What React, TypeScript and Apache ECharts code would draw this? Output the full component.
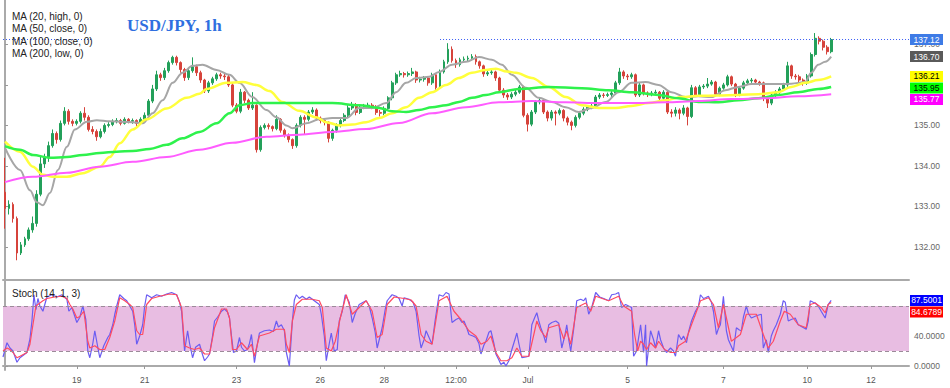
import React, { useEffect, useRef } from 'react';
import * as echarts from 'echarts';

// ---------- data ----------
const BAR_SLOTS = 227; // hourly bars incl. empty space right of last bar

// [open, close, low, high]
const candles: [number, number, number, number][] = [
[133.35,132.95,132.45,134.2],[132.95,133.05,132.8,133.15],[133.05,132.7,132.6,133.1],[132.7,131.85,131.67,132.75],
[131.85,132.05,131.8,132.12],[132.05,132.2,132.0,132.25],[132.2,132.42,132.15,132.48],[132.42,132.58,132.35,132.75],
[132.58,133.3,132.5,133.4],[133.3,134.05,133.25,134.22],[134.05,134.2,133.95,134.3],[134.2,134.5,134.1,134.6],
[134.5,134.8,134.45,134.9],[134.8,134.65,134.55,134.85],[134.65,135.05,134.6,135.12],[135.05,135.35,135.0,135.45],
[135.35,135.1,135.02,135.4],[135.1,135.05,134.98,135.15],[135.05,135.1,135.0,135.15],[135.1,135.3,135.05,135.35],
[135.3,135.2,135.12,135.45],[135.2,134.9,134.85,135.25],[134.9,134.85,134.78,134.98],[134.85,134.72,134.62,134.9],
[134.72,134.85,134.68,134.92],[134.85,135.0,134.8,135.05],[135.0,135.02,134.95,135.08],[135.02,135.1,134.98,135.15],
[135.1,135.12,135.05,135.18],[135.12,135.05,135.0,135.16],[135.05,135.15,135.02,135.2],[135.15,135.1,135.05,135.18],
[135.1,135.12,135.04,135.17],[135.12,135.05,134.98,135.15],[135.05,135.15,135.02,135.2],[135.15,135.25,135.1,135.32],
[135.25,135.6,135.2,135.65],[135.6,135.9,135.55,136.0],[135.9,136.25,135.85,136.35],[136.25,136.18,136.1,136.3],
[136.18,136.35,136.12,136.42],[136.35,136.55,136.3,136.6],[136.55,136.68,136.5,136.72],[136.68,136.55,136.48,136.72],
[136.55,136.38,136.3,136.58],[136.38,136.18,136.1,136.42],[136.18,136.35,136.12,136.4],[136.35,136.45,136.3,136.68],
[136.45,136.3,136.22,136.5],[136.3,136.12,136.05,136.35],[136.12,135.85,135.8,136.15],[135.85,136.05,135.8,136.1],
[136.05,136.15,136.0,136.2],[136.15,136.25,136.1,136.3],[136.25,136.22,136.15,136.3],[136.22,136.2,136.12,136.28],
[136.2,136.0,135.95,136.25],[136.0,135.5,135.45,136.05],[135.5,135.35,135.3,135.55],[135.35,135.82,135.3,135.9],
[135.82,135.62,135.55,135.85],[135.62,135.43,135.38,135.66],[135.43,135.5,135.38,135.82],[135.5,134.4,134.33,135.52],
[134.4,134.95,134.35,135.0],[134.95,135.0,134.9,135.05],[135.0,134.97,134.9,135.05],[134.97,134.92,134.85,135.0],
[134.92,135.15,134.88,135.25],[135.15,134.88,134.82,135.18],[134.88,134.76,134.7,134.92],[134.76,134.65,134.58,134.8],
[134.65,134.5,134.42,134.68],[134.5,135.0,134.45,135.05],[135.0,135.2,134.95,135.25],[135.2,135.15,134.78,135.25],
[135.15,135.33,135.1,135.38],[135.33,135.38,135.28,135.45],[135.38,135.18,135.12,135.42],[135.18,135.12,135.05,135.22],
[135.12,135.08,135.0,135.15],[135.08,134.68,134.58,135.1],[134.68,134.88,134.62,134.92],[134.88,135.0,134.82,135.05],
[135.0,135.12,134.95,135.18],[135.12,135.25,135.08,135.3],[135.25,135.43,135.2,135.5],[135.43,135.5,135.38,135.58],
[135.5,135.32,135.25,135.55],[135.32,135.45,135.28,135.5],[135.45,135.48,135.4,135.53],[135.48,135.5,135.42,135.56],
[135.5,135.45,135.4,135.55],[135.45,135.32,135.26,135.5],[135.32,135.3,135.22,135.38],[135.3,135.42,135.25,135.47],
[135.42,135.68,135.38,135.72],[135.68,136.05,135.62,136.1],[136.05,136.25,136.0,136.3],[136.25,136.28,136.2,136.35],
[136.28,136.25,136.18,136.32],[136.25,136.28,136.2,136.33],[136.28,136.32,136.22,136.42],[136.32,136.12,136.05,136.35],
[136.12,136.14,136.06,136.2],[136.14,136.17,136.08,136.22],[136.17,136.05,135.98,136.2],[136.05,136.25,136.0,136.3],
[136.25,135.93,135.88,136.28],[135.93,136.32,135.9,136.38],[136.32,136.57,136.28,136.62],[136.57,136.88,136.52,137.03],
[136.88,136.6,136.55,136.95],[136.6,136.5,136.42,136.65],[136.5,136.62,136.45,136.67],[136.62,136.64,136.56,136.7],
[136.64,136.66,136.58,136.72],[136.66,136.7,136.6,136.76],[136.7,136.57,136.5,136.75],[136.57,136.47,136.4,136.6],
[136.47,136.27,136.2,136.5],[136.27,136.3,136.22,136.36],[136.3,136.32,136.25,136.38],[136.32,136.17,136.1,136.35],
[136.17,135.87,135.82,136.2],[135.87,135.75,135.68,135.92],[135.75,135.7,135.63,135.8],[135.7,135.77,135.65,135.82],
[135.77,135.82,135.72,135.88],[135.82,135.95,135.78,136.0],[135.95,135.25,135.2,135.98],[135.25,135.03,134.85,135.3],
[135.03,135.33,134.98,135.38],[135.33,135.58,135.28,135.62],[135.58,135.62,135.52,135.68],[135.62,135.33,135.28,135.65],
[135.33,135.18,135.1,135.37],[135.18,135.33,135.12,135.38],[135.33,135.3,135.0,135.37],[135.3,135.37,135.25,135.42],
[135.37,135.18,135.1,135.4],[135.18,135.08,135.0,135.22],[135.08,135.0,134.88,135.12],[135.0,135.2,134.95,135.25],
[135.2,135.3,135.15,135.35],[135.3,135.4,135.25,135.45],[135.4,135.45,135.35,135.5],[135.45,135.48,135.4,135.53],
[135.48,135.7,135.42,135.75],[135.7,135.75,135.65,135.8],[135.75,135.74,135.68,135.8],[135.74,135.76,135.7,135.81],
[135.76,135.8,135.7,135.85],[135.8,136.05,135.75,136.1],[136.05,136.32,136.0,136.42],[136.32,136.22,136.15,136.36],
[136.22,136.2,136.12,136.27],[136.2,136.25,136.15,136.3],[136.25,135.75,135.7,136.28],[135.75,136.0,135.7,136.05],
[136.0,135.8,135.74,136.03],[135.8,135.77,135.7,135.84],[135.77,135.8,135.72,135.85],[135.8,135.82,135.74,135.88],
[135.82,135.67,135.6,135.85],[135.67,135.82,135.62,135.87],[135.82,135.33,135.28,135.85],[135.33,135.3,135.2,135.4],
[135.3,135.38,135.22,135.45],[135.38,135.3,135.15,135.42],[135.3,135.43,135.25,135.5],[135.43,135.22,135.0,135.46],
[135.22,135.93,135.18,136.0],[135.93,135.75,135.7,135.97],[135.75,135.95,135.7,136.0],[135.95,135.97,135.9,136.02],
[135.97,136.02,135.92,136.17],[136.02,136.07,135.98,136.12],[136.07,135.77,135.72,136.1],[135.77,135.92,135.72,135.96],
[135.92,136.0,135.88,136.05],[136.0,136.2,135.96,136.25],[136.2,136.02,135.97,136.23],[136.02,135.77,135.7,136.05],
[135.77,135.92,135.72,135.96],[135.92,136.05,135.88,136.1],[136.05,136.1,136.0,136.15],[136.1,136.12,136.05,136.17],
[136.12,136.07,136.0,136.15],[136.07,136.05,135.98,136.1],[136.05,135.67,135.6,136.08],[135.67,135.55,135.43,135.7],
[135.55,135.75,135.5,135.8],[135.75,135.82,135.7,135.87],[135.82,135.9,135.78,135.95],[135.9,136.0,135.85,136.05],
[136.0,136.47,135.95,136.57],[136.47,136.22,136.15,136.5],[136.22,136.2,136.13,136.27],[136.2,136.12,136.06,136.25],
[136.12,136.05,135.98,136.16],[136.05,136.22,136.0,136.27],[136.22,136.75,136.18,136.8],[136.75,137.15,136.7,137.28],
[137.15,137.08,137.0,137.2],[137.08,136.93,136.85,137.12],[136.93,136.82,136.75,136.98],[136.82,137.12,136.78,137.16],
];

// moving averages: [bar index, value]
const ma20High: [number, number][] = [
[0,134.45],[3.75,133.9],[6.25,133.4],[8,133.1],[9.5,133.03],[11.25,133.33],[13.25,133.9],[15.5,134.47],[17.5,134.9],
[20.5,135.09],[23,135.13],[26.25,135.1],[32,135.08],[34.5,135.05],[37,135.3],[39.5,135.62],[42,136.05],[44.5,136.3],
[47,136.47],[49.5,136.5],[53,136.37],[56.25,136.25],[58.75,136.05],[62,135.7],[65.5,135.38],[68,135.2],[70.5,135.0],
[72,134.93],[75.5,135.05],[78.75,135.15],[82,135.18],[85.5,135.18],[88.75,135.43],[92,135.43],[95.5,135.55],[98,135.82],
[100.5,136.05],[103,136.17],[106.25,136.2],[108.75,136.32],[112,136.5],[115.5,136.57],[118.75,136.69],[122,136.62],
[124.5,136.5],[127,136.25],[130.5,135.93],[133.75,135.68],[137,135.58],[140.5,135.45],[143.75,135.33],[147,135.43],
[150.5,135.58],[153.75,135.82],[157,136.05],[160.5,136.07],[163.75,136.0],[167,135.82],[170.5,135.7],[173.75,135.72],
[177,135.7],[180.5,135.87],[183.75,135.95],[187,136.02],[190.5,136.02],[193.75,136.02],[197,136.03],[200.5,136.07],
[202,136.3],[203.75,136.5],[205.5,136.57],[207,136.7],
];
const ma50Close: [number, number][] = [
[0,134.6],[3.75,134.35],[7,133.98],[9.5,133.78],[12,133.73],[15.5,133.73],[19.5,133.82],[23.75,133.98],[26.25,134.22],
[28.75,134.56],[32,134.9],[35.5,135.15],[40.5,135.42],[45.5,135.68],[48.75,135.78],[50.5,135.9],[55.5,136.05],[59.5,136.07],
[63,136.0],[66.25,135.85],[69.5,135.58],[73.75,135.36],[78,135.2],[80.5,135.08],[83.75,135.0],[87,135.02],[90.5,135.08],
[93.75,135.18],[97,135.3],[100.5,135.45],[103.75,135.68],[107,135.82],[110.5,136.0],[113.75,136.17],[117,136.3],
[120.5,136.37],[123,136.4],[125.75,136.33],[128,136.3],[132,136.17],[136.25,135.95],[140.5,135.7],[144.5,135.5],
[148.75,135.43],[153,135.43],[157,135.48],[161.25,135.55],[165.5,135.62],[169.5,135.7],[173.75,135.73],[178.75,135.74],
[183.75,135.75],[188.75,135.77],[193.75,135.82],[197,135.95],[200.5,136.05],[203.75,136.12],[207,136.21],
];
const ma100Close: [number, number][] = [
[0,134.49],[3.75,134.4],[7,134.27],[11.25,134.2],[15.5,134.22],[19.5,134.27],[23.75,134.32],[28,134.35],[32,134.37],
[36.25,134.42],[40.5,134.52],[44.5,134.68],[48.75,134.84],[53,135.05],[56.25,135.3],[58.75,135.5],[62,135.55],[67,135.55],
[73.75,135.55],[82,135.55],[88.75,135.5],[93.75,135.43],[97,135.35],[100.5,135.33],[103.75,135.38],[107,135.45],
[110.5,135.5],[113.75,135.58],[117,135.68],[120.5,135.75],[123.75,135.82],[128.75,135.9],[136.25,135.95],[144.5,135.92],
[151.25,135.87],[157,135.82],[163.75,135.75],[168.75,135.67],[173.75,135.58],[178.75,135.57],[183.75,135.62],
[188.75,135.67],[193.75,135.75],[198.75,135.82],[203.75,135.9],[207,135.95],
];
const ma200Low: [number, number][] = [
[0,133.6],[7,133.73],[15.5,133.83],[23.75,133.98],[32,134.1],[40.5,134.22],[48.75,134.4],[57,134.57],[65.5,134.72],
[73.75,134.77],[82,134.84],[90.5,134.91],[98.75,135.06],[107,135.3],[115.5,135.45],[123.75,135.57],[132,135.6],
[140.5,135.57],[148.75,135.55],[157,135.55],[165.5,135.57],[173.75,135.6],[182,135.65],[190.5,135.67],[198.75,135.72],
[207,135.77],
];

// stochastic (14, 1, 3): [bar index, value]
const stochK: [number, number][] = [
[-0.5,12],[0.5,31],[1.25,24],[2,20],[3,5],[3.75,11],[5.5,18],[6.25,36],[6.75,60],[7.25,95],[7.75,75],[8.25,90],[8.75,80],
[9.5,73],[10.5,92],[11.75,95],[13,92],[14.25,95],[15.5,89],[16,73],[16.75,78],[18,58],[18.75,65],[19.5,80],[20.25,62],
[20.75,20],[21.25,11],[22,30],[22.5,47],[23.25,25],[23.75,11],[24.75,27],[25.75,38],[26.25,42],[27,55],[27.5,69],[28,80],
[28.75,95],[29.75,90],[30.5,87],[31.25,80],[32,73],[32.5,55],[33,29],[33.75,40],[34.5,55],[35,80],[35.5,95],[36.75,91],
[38,95],[39.25,93],[40.5,96],[41.75,98],[43,95],[43.75,85],[44.25,73],[45,20],[45.75,47],[46.25,30],[47,11],[47.75,25],
[48.75,29],[49.5,15],[50,7],[50.75,12],[51.25,16],[52,40],[52.5,60],[53.25,65],[54.25,73],[55,76],[55.75,72],[56.25,64],
[56.75,40],[57.25,18],[58,20],[58.75,38],[59.25,25],[60,20],[60.75,22],[61.25,30],[61.75,42],[62.5,4.5],[63.25,30],
[63.75,44],[65,47],[66.25,48],[67.25,46],[68,60],[68.5,52],[69.25,55],[70,47],[70.5,18],[71.25,0],[72,60],[72.5,88],
[73,95],[73.75,90],[74.5,93],[75.5,89],[76.25,92],[77,89],[78,85],[78.75,82],[79.25,69],[80,40],[80.5,7],[81.25,30],
[81.75,44],[82.5,20],[83.25,22],[83.75,60],[84.5,73],[85.25,95],[86.25,85],[87,58],[87.75,70],[88.75,82],[89.75,85],
[90.5,87],[91.25,80],[92,64],[92.75,45],[93.25,24],[94,40],[94.5,51],[95.25,75],[95.75,87],[96.5,92],[97,95],[98,93],
[98.75,90],[99.5,80],[100,91],[101.25,89],[102.25,85],[103,73],[103.75,40],[104.25,24],[105,35],[105.5,47],[106.25,38],
[107,29],[107.75,60],[108.75,95],[109.75,93],[110.5,98],[111.25,96],[112,58],[113,62],[113.75,64],[114.5,58],[115,60],
[115.75,50],[116.25,42],[117.25,40],[118,38],[118.75,30],[119.25,16],[120,28],[120.5,33],[121.25,45],[121.75,47],
[122.5,30],[123,16],[123.75,8],[124.25,2],[125,5],[125.5,0],[126.25,7],[127,22],[127.75,35],[128.25,44],[128.75,30],
[129.5,11],[130.5,12],[131.25,13],[132,55],[132.75,65],[133.25,71],[133.75,60],[134.25,51],[135,40],[135.5,31],
[136.25,55],[137,58],[138,60],[138.75,57],[139.5,24],[140.25,40],[140.75,55],[141.25,35],[141.75,20],[142.5,50],
[143.25,87],[144.25,89],[145,87],[145.5,91],[146.25,69],[147,78],[148,98],[149,92],[150,90],[151.25,87],[152,95],
[153,96],[153.75,98],[154.5,78],[155.5,82],[156.25,80],[157,78],[157.5,13],[158.25,20],[159.25,55],[160,18],[160.5,55],
[160.75,0],[161.75,47],[162.5,35],[163,24],[163.75,47],[164.25,35],[165,24],[165.75,18],[166.75,24],[167.5,20],[168,13],
[168.75,42],[169.5,35],[170,40],[170.75,31],[171.25,45],[172,60],[173,73],[173.75,80],[174.25,95],[175,90],[175.5,91],
[176.25,93],[177,85],[177.5,73],[178.25,42],[178.75,50],[179.25,55],[180,93],[180.75,47],[181.25,35],[181.75,29],
[182.5,20],[183.25,51],[184,48],[184.5,47],[185,65],[185.75,80],[186.25,70],[187,64],[188.25,67],[189.5,69],[190,24],
[190.75,35],[191.25,18],[192,40],[192.5,47],[193.25,55],[194.25,69],[195,87],[195.5,85],[196.25,60],[197,62],[198,64],
[198.75,55],[199.75,52],[200.75,49],[201.25,60],[201.75,87],[202.5,85],[203,84],[203.75,80],[204.5,73],[205.5,64],
[206.25,82],[207,87.5001],
];
const stochD: [number, number][] = [
[-0.5,20],[0.5,24],[1.25,22],[2,18],[3,11],[3.75,13],[5.5,18],[6.25,29],[7,55],[7.75,80],[8.75,84],[9.5,87],[10.5,90],
[12.5,92],[14.25,93],[15.5,90],[16.25,82],[17,76],[18,64],[18.75,66],[19.75,73],[20.75,33],[21.25,24],[22.5,27],
[23.75,22],[25,22],[26.25,38],[27.5,60],[28.75,91],[30,87],[31.25,82],[32,78],[33,47],[33.75,42],[34.5,42],[35.5,82],
[36.75,90],[38.75,93],[41.25,96],[43,95],[44.25,78],[45,27],[46.25,24],[47.5,22],[48.75,24],[50,16],[51.25,16],
[52.5,51],[54.25,76],[55.5,76],[56.25,64],[57,22],[58,22],[59.25,31],[60.75,22],[61.75,29],[62.5,13],[63.75,40],
[66.25,44],[68,49],[70,49],[70.5,29],[71.25,18],[72,60],[73,82],[74.5,89],[77,89],[78.75,87],[79.5,78],[80.5,24],
[81.75,20],[82.75,33],[84,64],[85.5,95],[87,69],[88.75,78],[90.5,87],[92,73],[93.25,38],[94.5,42],[95.75,82],[97.5,92],
[100,90],[101.75,88],[103,80],[104.25,42],[105.5,33],[107,29],[108.75,87],[110.75,93],[112.5,73],[114.25,62],
[116.25,47],[118,40],[119.25,29],[120.75,33],[121.75,40],[123,18],[124.25,7],[125.75,7],[127,11],[128.25,24],[129.5,13],
[131.25,13],[132.5,42],[133.25,60],[134.25,47],[135.5,38],[136.25,51],[138.75,55],[140,36],[140.75,47],[141.75,29],
[143.25,78],[145.5,84],[146.75,73],[148,93],[151.25,87],[153.75,93],[155,80],[157,73],[157.75,42],[158.5,20],[159.25,33],
[160,29],[160.75,22],[161.75,31],[163,24],[163.75,33],[165.25,22],[166.75,18],[168,18],[168.75,27],[170.5,33],[172,55],
[173,69],[174.25,87],[176.25,91],[177.5,82],[178.75,51],[180,82],[180.75,64],[182,33],[182.75,36],[184.25,42],
[185.75,69],[188.25,69],[190,42],[191.25,24],[192.5,33],[194.25,60],[195.25,73],[196.75,69],[198.75,55],[200.75,51],
[201.75,82],[203,84],[204.5,78],[205.5,71],[206.25,82],[207,84.6789],
];

const priceTicks = [132, 133, 134, 135, 136, 137];
const priceTickLabels = [132, 133, 134, 135, 137]; // 136.00 sits under the MA badges
const stochTicks = [0, 40, 80];
const stochTickLabels = [0, 40]; // 80.0000 sits under the stoch badges
const xTickBars = [18, 35, 58, 79, 95, 113, 131, 156, 180, 201, 217];
const xTickLabels = ['19', '21', '23', '26', '28', '12:00', 'Jul', '5', '7', '10', '12'];
const legendLines = ['MA (20, high, 0)', 'MA (50, close, 0)', 'MA (100, close, 0)', 'MA (200, low, 0)'];
const chartTitle = 'USD/JPY, 1h';
const stochTitle = 'Stoch (14, 1, 3)';
const priceLineSpans: [number, number][] = [[-0.5, 22], [109, BAR_SLOTS - 0.5]];

// ---------- styles ----------
const FONT = "'Liberation Sans', Arial, sans-serif";
const UP = '#23a05a';
const DOWN = '#d6433b';
const C_MA20 = '#a6a6a6';
const C_MA50 = '#ffff3c';
const C_MA100 = '#2ef24c';
const C_MA200 = '#ff5cff';
const C_K = '#6b5cf2';
const C_D = '#ff4a62';

export default function App() {
  const ref = useRef<HTMLDivElement>(null);

  useEffect(() => {
    if (!ref.current) return;
    const chart = echarts.init(ref.current, null, { renderer: 'svg' });
    const categories = Array.from({ length: BAR_SLOTS }, (_, i) => String(i));
    const labelAt = new Map<number, string>(xTickBars.map((b, i) => [b, xTickLabels[i]]));
    const lastClose = candles[candles.length - 1][1];

    const maLine = (data: [number, number][], color: string, width: number, extra: any = {}) => ({
      type: 'line',
      xAxisIndex: 1,
      yAxisIndex: 0,
      data,
      showSymbol: false,
      smooth: 0.35,
      smoothMonotone: 'x',
      lineStyle: { color, width },
      z: 4,
      silent: true,
      ...extra,
    });

    const option: any = {
      animation: false,
      backgroundColor: '#ffffff',
      grid: [
        { left: 3, right: 41, top: 0, height: 280 },
        { left: 3, right: 41, top: 280, height: 90 },
      ],
      xAxis: [
        {
          type: 'category', gridIndex: 0, data: categories, boundaryGap: true,
          axisLine: { show: true, lineStyle: { color: '#aaaaaa', width: 2 } },
          axisTick: { show: false }, axisLabel: { show: false }, splitLine: { show: false },
        },
        { type: 'value', gridIndex: 0, min: -0.5, max: BAR_SLOTS - 0.5, show: false },
        {
          type: 'category', gridIndex: 1, data: categories, boundaryGap: true,
          axisLine: { show: true, lineStyle: { color: '#aaaaaa', width: 2 } },
          axisTick: {
            show: true, alignWithLabel: true, length: 3,
            interval: (i: number) => labelAt.has(i), lineStyle: { color: '#999' },
          },
          axisLabel: {
            interval: (i: number) => labelAt.has(i),
            formatter: (_v: string, i: number) => labelAt.get(i) ?? '',
            fontSize: 8.5, color: '#555', margin: 5, fontFamily: FONT,
          },
          splitLine: { show: false },
        },
        { type: 'value', gridIndex: 1, min: -0.5, max: BAR_SLOTS - 0.5, show: false },
      ],
      yAxis: [
        {
          type: 'value', gridIndex: 0, position: 'right', min: 131.183, max: 138.096,
          axisLine: { show: true, lineStyle: { color: '#aaaaaa', width: 2 } },
          axisTick: { show: true, length: 3, customValues: priceTicks, lineStyle: { color: '#999' } },
          axisLabel: {
            customValues: priceTickLabels, formatter: (v: number) => v.toFixed(2),
            fontSize: 8.5, color: '#666', margin: 5, fontFamily: FONT,
          },
          splitLine: { show: false },
        },
        {
          type: 'value', gridIndex: 1, position: 'right', min: -5.333, max: 114.667,
          axisLine: { show: true, lineStyle: { color: '#aaaaaa', width: 2 } },
          axisTick: { show: true, length: 3, customValues: stochTicks, lineStyle: { color: '#999' } },
          axisLabel: {
            customValues: stochTickLabels, formatter: (v: number) => v.toFixed(4),
            fontSize: 8.5, color: '#666', margin: 5, fontFamily: FONT,
          },
          splitLine: { show: false },
        },
      ],
      series: [
        {
          type: 'candlestick', xAxisIndex: 0, yAxisIndex: 0, data: candles, barWidth: 2.4,
          itemStyle: { color: UP, color0: DOWN, borderColor: UP, borderColor0: DOWN, borderWidth: 1 },
          z: 2, silent: true,
        },
        maLine(ma20High, C_MA20, 2, {
          markLine: {
            silent: true, symbol: ['none', 'none'], label: { show: false },
            lineStyle: { type: [1, 2], color: '#3b5ef5', width: 1 },
            data: priceLineSpans.map(([a, b]) => [{ coord: [a, lastClose] }, { coord: [b, lastClose] }]),
          },
        }),
        maLine(ma50Close, C_MA50, 2.5),
        maLine(ma100Close, C_MA100, 2.5),
        maLine(ma200Low, C_MA200, 2),
        {
          type: 'line', xAxisIndex: 3, yAxisIndex: 1, data: stochK, showSymbol: false,
          lineStyle: { color: C_K, width: 1.2 }, z: 3, silent: true,
          markArea: { silent: true, itemStyle: { color: '#e8bde2' }, data: [[{ yAxis: 20 }, { yAxis: 80 }]] },
          markLine: {
            silent: true, symbol: ['none', 'none'], label: { show: false },
            lineStyle: { type: [4, 3], color: '#9c8a99', width: 1.2 },
            data: [{ yAxis: 20 }, { yAxis: 80 }],
          },
        },
        {
          type: 'line', xAxisIndex: 3, yAxisIndex: 1, data: stochD, showSymbol: false,
          lineStyle: { color: C_D, width: 1.2 }, z: 3, silent: true,
        },
      ],
    };
    chart.setOption(option);

    // right-side value badges
    const boxH = 11;
    const makeBadges = (items: { v: number; bg: string; fg: string; digits: number }[], axis: number) => {
      const list = items
        .map((it) => ({ ...it, y: chart.convertToPixel({ yAxisIndex: axis } as any, it.v) as number }))
        .sort((a, b) => a.y - b.y);
      for (let i = 1; i < list.length; i++) {
        if (list[i].y < list[i - 1].y + boxH + 0.5) list[i].y = list[i - 1].y + boxH + 0.5;
      }
      const out: any[] = [];
      list.forEach((it) => {
        out.push({
          type: 'rect', z: 100, shape: { x: 910, y: it.y - boxH / 2, width: 33, height: boxH },
          style: { fill: it.bg },
        });
        out.push({
          type: 'text', z: 101, x: 926.5, y: it.y,
          style: { text: it.v.toFixed(it.digits), fill: it.fg, font: `8.5px ${FONT}`, align: 'center', verticalAlign: 'middle' },
        });
      });
      return out;
    };
    const last = (a: [number, number][]) => a[a.length - 1][1];
    const priceBadges = makeBadges([
      { v: lastClose, bg: '#3e7be6', fg: '#ffffff', digits: 2 },
      { v: last(ma20High), bg: '#5a5a5a', fg: '#ffffff', digits: 2 },
      { v: last(ma50Close), bg: '#ffff00', fg: '#000000', digits: 2 },
      { v: last(ma100Close), bg: '#00ff00', fg: '#000000', digits: 2 },
      { v: last(ma200Low), bg: '#ff00ff', fg: '#ffffff', digits: 2 },
    ], 0);
    const stochBadges = makeBadges([
      { v: last(stochK), bg: '#0000ff', fg: '#ffffff', digits: 4 },
      { v: last(stochD), bg: '#ff0000', fg: '#ffffff', digits: 4 },
    ], 1);

    const texts: any[] = legendLines.map((t, i) => ({
      type: 'text', z: 100, x: 12, y: 16 + i * 12.6,
      style: { text: t, fill: '#222', font: `10px ${FONT}`, verticalAlign: 'middle' },
    }));
    texts.push({
      type: 'text', z: 100, x: 127, y: 25,
      style: { text: chartTitle, fill: '#2f6fe0', font: `bold 17px 'Liberation Serif', 'DejaVu Serif', serif`, verticalAlign: 'middle' },
    });
    texts.push({
      type: 'text', z: 100, x: 12, y: 293,
      style: { text: stochTitle, fill: '#222', font: `10px ${FONT}`, verticalAlign: 'middle' },
    });

    chart.setOption({ graphic: [...texts, ...priceBadges, ...stochBadges] });

    return () => chart.dispose();
  }, []);

  return <div ref={ref} style={{ position: 'fixed', left: 0, top: 0, width: 950, height: 388, background: '#fff' }} />;
}
